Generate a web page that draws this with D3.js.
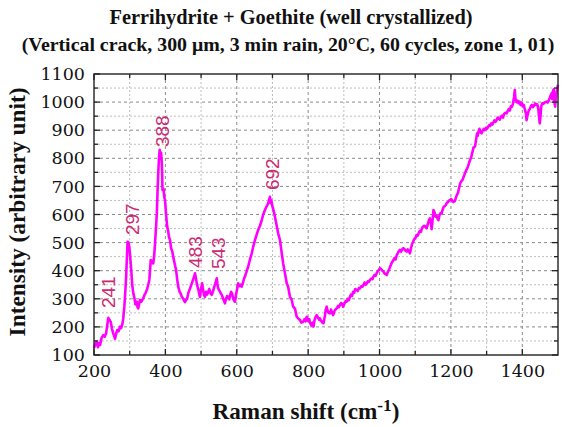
<!DOCTYPE html>
<html><head><meta charset="utf-8">
<script src="https://cdn.jsdelivr.net/npm/d3@7"></script>
<style>body{margin:0;background:#fff}svg{display:block}</style>
</head><body>
<svg id="c" width="565" height="427"></svg>
<script>
const titleLines = ["Ferrihydrite + Goethite (well crystallized)", "(Vertical crack, 300 μm, 3 min rain, 20°C, 60 cycles, zone 1, 01)"];
const xTicks = [200,400,600,800,1000,1200,1400];
const yTicks = [100,200,300,400,500,600,700,800,900,1000,1100];
const peakLabels = ["241","297","388","483","543","692"];
const peakLabelShift = [239,306,391,483,547,699];
const peakLabelIntensity = [267,527,840,410,406,687];
const shift = [200,204,207,211,214,217,221,226,230,234,237,240,243,247,250,254,257,259,262,265,269,273,276,279,282,285,288,290,292,294,297,299,302,305,307,310,313,316,320,322,324,327,329,333,338,342,345,348,352,355,357,359,362,364,366,369,371,374,376,378,380,382,384,386,388,390,392,395,397,399,402,405,408,410,413,416,419,422,426,430,433,436,440,443,446,450,453,455,458,461,464,467,470,474,478,481,483,486,488,490,493,495,497,500,503,506,508,511,514,517,520,523,526,530,533,537,540,544,546,548,551,555,558,562,565,567,570,573,576,579,582,584,587,590,593,595,598,601,604,607,611,614,618,621,623,627,632,637,642,646,651,655,660,665,670,674,679,682,686,689,691,693,695,697,700,703,707,711,716,721,726,730,735,740,744,749,754,758,763,768,772,777,781,786,790,793,796,800,803,805,809,812,815,818,821,824,828,831,833,837,840,843,847,849,852,855,858,861,864,867,870,874,877,880,884,886,889,892,895,898,902,905,908,911,914,917,920,923,926,929,932,936,939,942,945,949,952,955,958,961,964,967,970,973,977,980,983,986,989,992,995,998,1001,1005,1008,1011,1014,1017,1020,1024,1027,1029,1033,1036,1039,1042,1045,1048,1051,1054,1057,1060,1063,1066,1069,1072,1076,1079,1082,1085,1088,1091,1094,1097,1100,1104,1107,1110,1113,1116,1119,1122,1126,1129,1132,1135,1138,1141,1144,1146,1149,1151,1154,1157,1160,1163,1165,1168,1171,1174,1177,1180,1183,1186,1189,1192,1195,1198,1201,1204,1207,1211,1214,1217,1220,1223,1226,1229,1232,1236,1239,1242,1245,1248,1251,1254,1257,1260,1263,1266,1268,1271,1273,1275,1277,1280,1283,1286,1289,1292,1295,1298,1301,1304,1307,1310,1313,1316,1319,1322,1325,1328,1331,1334,1337,1340,1343,1346,1349,1352,1356,1359,1362,1365,1368,1371,1374,1377,1379,1381,1384,1387,1389,1392,1395,1398,1401,1404,1407,1410,1412,1415,1418,1421,1424,1427,1430,1433,1436,1439,1442,1445,1447,1449,1451,1453,1456,1459,1462,1465,1468,1471,1474,1477,1480,1482,1484,1486,1488,1490,1492,1494,1496,1498,1500];
const intensity = [125,140,147,128,142,136,160,171,165,177,205,232,226,218,195,177,165,158,175,189,185,201,196,207,230,272,330,379,440,503,500,485,440,391,350,320,305,280,290,270,266,285,296,290,302,315,322,331,350,367,400,438,430,432,426,460,497,560,604,680,747,800,830,815,820,782,687,690,660,652,600,557,540,520,509,480,470,450,425,402,370,343,325,318,307,300,292,288,296,300,320,330,340,355,370,380,391,370,355,343,330,315,307,335,355,330,315,307,325,315,325,335,320,314,325,343,355,373,350,337,330,320,314,300,290,284,300,310,307,298,315,325,318,300,292,290,315,335,355,345,350,343,360,375,379,395,415,440,462,485,509,525,545,560,580,600,616,625,634,645,655,663,640,650,628,615,592,565,533,509,462,426,391,355,343,307,296,272,265,236,230,225,215,218,228,220,236,222,228,215,205,215,201,225,235,242,232,225,230,220,215,213,240,260,272,255,250,248,262,250,242,258,262,266,275,270,278,285,282,272,285,292,290,300,295,307,315,310,325,322,335,331,328,338,337,345,343,349,358,350,355,362,360,367,372,370,379,385,382,391,398,402,409,405,400,397,390,388,385,398,405,412,425,432,438,445,440,455,462,470,474,468,475,480,478,472,468,476,470,462,478,495,503,512,515,527,525,535,542,538,552,557,560,555,551,565,578,586,570,548,585,616,608,592,595,585,580,598,605,604,618,628,630,635,642,645,650,652,655,648,645,648,660,670,678,695,711,718,722,735,746,755,762,772,785,795,805,820,838,840,845,870,888,880,895,905,892,889,898,905,900,908,905,912,918,915,924,920,928,935,930,936,945,940,938,948,952,945,958,962,960,968,975,970,985,984,995,1020,1043,1010,1000,1005,996,1002,990,998,985,990,975,960,936,955,970,975,985,990,982,988,995,990,992,975,945,924,950,985,996,994,998,1000,1002,998,1005,1015,1025,1031,1010,1040,1045,1000,984,1020,1035,1050,1062];

const svg = d3.select("#c");
const L=94, R=558, T=74, B=355;
const x = d3.scaleLinear().domain([200,1500]).range([L,R]);
const y = d3.scaleLinear().domain([100,1100]).range([B,T]);

// grid
const g = svg.append("g");
const xMinor = d3.range(300,1500,200), xMajor = d3.range(400,1500,200);
const yMinor = d3.range(150,1100,100), yMajor = d3.range(200,1100,100);
g.selectAll(".gxm").data(xMinor).join("line").attr("x1",d=>x(d)).attr("x2",d=>x(d)).attr("y1",T).attr("y2",B)
 .attr("stroke","#bdbdbd").attr("stroke-width",1).attr("stroke-dasharray","2,2");
g.selectAll(".gxM").data(xMajor).join("line").attr("x1",d=>x(d)).attr("x2",d=>x(d)).attr("y1",T).attr("y2",B)
 .attr("stroke","#8a8a8a").attr("stroke-width",1).attr("stroke-dasharray","3,3");
g.selectAll(".gym").data(yMinor).join("line").attr("y1",d=>y(d)).attr("y2",d=>y(d)).attr("x1",L).attr("x2",R)
 .attr("stroke","#bdbdbd").attr("stroke-width",1).attr("stroke-dasharray","2,2");
g.selectAll(".gyM").data(yMajor).join("line").attr("y1",d=>y(d)).attr("y2",d=>y(d)).attr("x1",L).attr("x2",R)
 .attr("stroke","#8a8a8a").attr("stroke-width",1).attr("stroke-dasharray","3,3");

// line
const pts = shift.map((s,i)=>[s,intensity[i]]);
svg.append("path").datum(pts).attr("fill","none").attr("stroke","#ff00ff").attr("stroke-width",2.6)
 .attr("stroke-linejoin","round")
 .attr("d", d3.line().x(d=>x(d[0])).y(d=>y(d[1])));

// ticks (inward) on all four sides
const tk = svg.append("g").attr("stroke","#222").attr("stroke-width",1.3);
const xMinT = d3.range(300,1500,200), xMajT = d3.range(200,1501,200);
const yMinT = d3.range(150,1100,100);
[[xMajT,6],[xMinT,4]].forEach(([arr,len])=>{
  arr.forEach(v=>{
    tk.append("line").attr("x1",x(v)).attr("x2",x(v)).attr("y1",B).attr("y2",B-len);
    tk.append("line").attr("x1",x(v)).attr("x2",x(v)).attr("y1",T).attr("y2",T+len);
  });
});
[[yTicks,6],[yMinT,4]].forEach(([arr,len])=>{
  arr.forEach(v=>{
    tk.append("line").attr("y1",y(v)).attr("y2",y(v)).attr("x1",L).attr("x2",L+len);
    tk.append("line").attr("y1",y(v)).attr("y2",y(v)).attr("x1",R).attr("x2",R-len);
  });
});
svg.append("rect").attr("x",L).attr("y",T).attr("width",R-L).attr("height",B-T)
 .attr("fill","none").attr("stroke","#222").attr("stroke-width",1.4);

// tick labels via axes (ticks hidden)
const xa = svg.append("g").attr("transform",`translate(0,${B})`)
 .call(d3.axisBottom(x).tickValues(xTicks).tickSize(0).tickPadding(10).tickFormat(d3.format("d")));
const ya = svg.append("g").attr("transform",`translate(${L},0)`)
 .call(d3.axisLeft(y).tickValues(yTicks).tickSize(0).tickPadding(9).tickFormat(d3.format("d")));
[xa,ya].forEach(a=>{a.select(".domain").remove();
  a.selectAll("text").attr("font-family","DejaVu Serif").attr("font-size","17.5px").attr("fill","#111");});

// peak labels
svg.append("g").selectAll("text").data(peakLabels).join("text")
 .attr("transform",(d,i)=>`translate(${x(peakLabelShift[i])},${y(peakLabelIntensity[i])}) rotate(-90)`)
 .attr("dy","0.36em").attr("text-anchor","start")
 .attr("font-family","Liberation Sans").attr("font-size","19px").attr("fill","#cc2a74").text(d=>d);

function fit(sel, w){ const n=sel.node(); const cur=n.getComputedTextLength(); const fs=parseFloat(sel.attr("font-size")); sel.attr("font-size",(fs*w/cur).toFixed(2)+"px"); }

// titles
const t1 = svg.append("text").attr("x",291).attr("y",24).attr("text-anchor","middle")
 .attr("font-family","Liberation Serif").attr("font-weight","bold").attr("font-size","18px").attr("fill","#111").text(titleLines[0]);
fit(t1,363);
const t2 = svg.append("text").attr("x",288).attr("y",51).attr("text-anchor","middle")
 .attr("font-family","Liberation Serif").attr("font-weight","bold").attr("font-size","18px").attr("fill","#111").text(titleLines[1]);
fit(t2,533);

// axis titles
const xt = svg.append("text").attr("x",306).attr("y",419).attr("text-anchor","middle")
 .attr("font-family","Liberation Serif").attr("font-weight","bold").attr("font-size","20px").attr("fill","#111");
xt.append("tspan").text("Raman shift (cm");
xt.append("tspan").attr("dy","-8").attr("font-size","15px").text("-1");
xt.append("tspan").attr("dy","8").text(")");
fit(xt,187);
xt.selectAll("tspan").filter((d,i)=>i===1).attr("font-size",(parseFloat(xt.attr("font-size"))*0.75).toFixed(1)+"px");

const yt = svg.append("text").attr("transform","translate(25,212) rotate(-90)").attr("text-anchor","middle")
 .attr("font-family","Liberation Serif").attr("font-weight","bold").attr("font-size","20px").attr("fill","#111")
 .text("Intensity (arbitrary unit)");
fit(yt,249);
</script>
</body></html>
